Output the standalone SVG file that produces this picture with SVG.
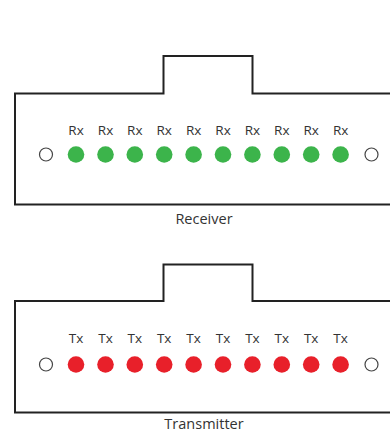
<svg xmlns="http://www.w3.org/2000/svg" width="390" height="433" viewBox="0 0 390 433">
  <style>
    .body { fill: none; stroke: #222; stroke-width: 2; }
    .port { fill: #fff; stroke: #444; stroke-width: 1.2; }
    .rx { fill: #3cb44b; }
    .tx { fill: #e8202a; }
    .lbl { font-family: "Open Sans", "Liberation Sans", sans-serif; font-size: 13.5px; fill: #333; text-anchor: middle; }
    .title { font-family: "Open Sans", "Liberation Sans", sans-serif; font-size: 14.5px; fill: #333; text-anchor: middle; }
  </style>
  <rect width="390" height="433" fill="#fff"/>

  <!-- receiver connector -->
  <g id="receiver">
    <path class="body" d="M392,93.5 H252.5 V56 H163.5 V93.5 H15 V204.5 H392"/>
    <circle class="port" cx="46" cy="154.5" r="6.5"/>
    <circle class="port" cx="371.5" cy="154.5" r="6.5"/>
    <g class="rx">
      <circle cx="76" cy="154.5" r="8.3"/>
      <circle cx="105.5" cy="154.5" r="8.3"/>
      <circle cx="134.8" cy="154.5" r="8.3"/>
      <circle cx="164.2" cy="154.5" r="8.3"/>
      <circle cx="193.6" cy="154.5" r="8.3"/>
      <circle cx="223" cy="154.5" r="8.3"/>
      <circle cx="252.4" cy="154.5" r="8.3"/>
      <circle cx="281.8" cy="154.5" r="8.3"/>
      <circle cx="311.2" cy="154.5" r="8.3"/>
      <circle cx="340.6" cy="154.5" r="8.3"/>
    </g>
    <g class="lbl">
      <text x="76" y="135">Rx</text>
      <text x="105.5" y="135">Rx</text>
      <text x="134.8" y="135">Rx</text>
      <text x="164.2" y="135">Rx</text>
      <text x="193.6" y="135">Rx</text>
      <text x="223" y="135">Rx</text>
      <text x="252.4" y="135">Rx</text>
      <text x="281.8" y="135">Rx</text>
      <text x="311.2" y="135">Rx</text>
      <text x="340.6" y="135">Rx</text>
    </g>
    <text class="title" x="204" y="224">Receiver</text>
  </g>

  <!-- transmitter connector -->
  <g id="transmitter">
    <path class="body" d="M392,301 H252.5 V264.5 H163.5 V301 H15 V412.5 H392"/>
    <circle class="port" cx="46" cy="364.5" r="6.5"/>
    <circle class="port" cx="371.5" cy="364.5" r="6.5"/>
    <g class="tx">
      <circle cx="76" cy="364.5" r="8.3"/>
      <circle cx="105.5" cy="364.5" r="8.3"/>
      <circle cx="134.8" cy="364.5" r="8.3"/>
      <circle cx="164.2" cy="364.5" r="8.3"/>
      <circle cx="193.6" cy="364.5" r="8.3"/>
      <circle cx="223" cy="364.5" r="8.3"/>
      <circle cx="252.4" cy="364.5" r="8.3"/>
      <circle cx="281.8" cy="364.5" r="8.3"/>
      <circle cx="311.2" cy="364.5" r="8.3"/>
      <circle cx="340.6" cy="364.5" r="8.3"/>
    </g>
    <g class="lbl">
      <text x="76" y="343">Tx</text>
      <text x="105.5" y="343">Tx</text>
      <text x="134.8" y="343">Tx</text>
      <text x="164.2" y="343">Tx</text>
      <text x="193.6" y="343">Tx</text>
      <text x="223" y="343">Tx</text>
      <text x="252.4" y="343">Tx</text>
      <text x="281.8" y="343">Tx</text>
      <text x="311.2" y="343">Tx</text>
      <text x="340.6" y="343">Tx</text>
    </g>
    <text class="title" x="204" y="428.5">Transmitter</text>
  </g>
</svg>
